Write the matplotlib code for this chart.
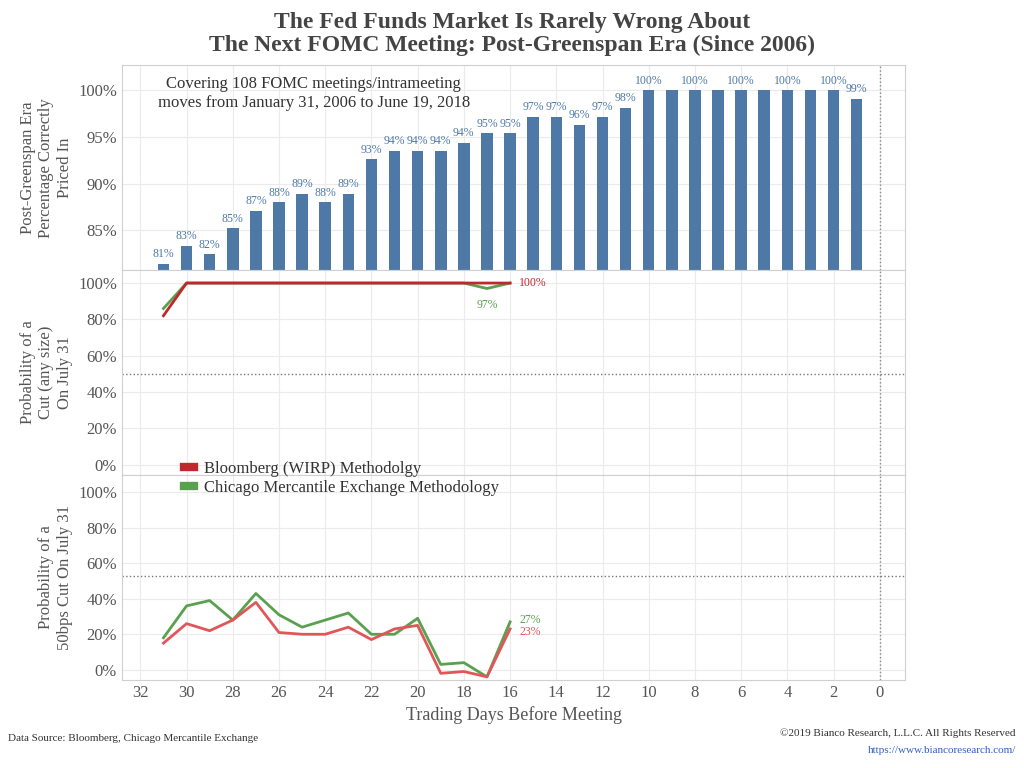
import numpy as np
import matplotlib.pyplot as plt
from matplotlib.ticker import FuncFormatter

plt.rcParams['font.family'] = ['Liberation Serif', 'DejaVu Serif']

days = list(range(31, 0, -1))
pct_correct = [81.4, 83.3, 82.4, 85.2, 87.1, 88.0, 88.9, 88.0, 88.9, 92.6, 93.5, 93.5,
               93.5, 94.4, 95.4, 95.4, 97.2, 97.2, 96.3, 97.2, 98.1, 100, 100, 100,
               100, 100, 100, 100, 100, 100, 99.1]
shown = {31, 30, 29, 28, 27, 26, 25, 24, 23, 22, 21, 20, 19, 18, 17, 16, 15, 14, 13,
         12, 11, 10, 8, 6, 4, 2, 1}

line_days = list(range(31, 15, -1))
cut_bbg = [82, 100, 100, 100, 100, 100, 100, 100, 100, 100, 100, 100, 100, 100, 100, 100]
cut_cme = [86, 100, 100, 100, 100, 100, 100, 100, 100, 100, 100, 100, 100, 100, 97, 100]
bp50_bbg = [15, 26, 22, 28, 38, 21, 20, 20, 24, 17, 23, 25, -2, -1, -4, 23]
bp50_cme = [18, 36, 39, 28, 43, 31, 24, 28, 32, 20, 20, 29, 3, 4, -4, 27]

BLUE = '#4e79a7'
RED = '#c0282d'
RED2 = '#e15759'
GREEN = '#59a14f'
TXT = '#555555'

fig = plt.figure(figsize=(10.24, 7.68), dpi=100)
ax1 = fig.add_axes([0.119, 0.648, 0.765, 0.267])
ax2 = fig.add_axes([0.119, 0.382, 0.765, 0.266], sharex=ax1)
ax3 = fig.add_axes([0.119, 0.115, 0.765, 0.267], sharex=ax1)

pct = FuncFormatter(lambda v, p: '%d%%' % v)
for ax in (ax1, ax2, ax3):
    ax.set_xlim(32.8, -1.1)
    ax.grid(True, color='#ebebeb', lw=0.8)
    ax.set_axisbelow(True)
    for s in ax.spines.values():
        s.set_color('#d0d0d0')
    ax.tick_params(length=0, colors=TXT, labelsize=12)
    ax.yaxis.set_major_formatter(pct)
    ax.axvline(0, color='#888888', ls=':', lw=1)

ax1.bar(days, pct_correct, width=0.5, color=BLUE)
for d, v in zip(days, pct_correct):
    if d in shown:
        ax1.text(d, v + 0.4, '%d%%' % round(v), ha='center', va='bottom', fontsize=8.5, color=BLUE)
ax1.set_ylim(80.7, 102.7)
ax1.set_yticks([85, 90, 95, 100])
ax1.set_ylabel('Post-Greenspan Era\nPercentage Correctly\nPriced In', fontsize=12, color=TXT)
ax1.text(24.5, 101.5, 'Covering 108 FOMC meetings/intrameeting\nmoves from January 31, 2006 to June 19, 2018',
         ha='center', va='top', fontsize=12, color='#333333')
ax1.tick_params(labelbottom=False)

ax2.plot(line_days, cut_cme, color=GREEN, lw=2)
ax2.plot(line_days, cut_bbg, color=RED, lw=2)
ax2.axhline(50, color='#777777', ls=':', lw=1)
ax2.text(17, 91, '97%', color=GREEN, fontsize=8.5, ha='center', va='top')
ax2.text(15.6, 100, '100%', color=RED, fontsize=8.5, va='center')
ax2.set_ylim(-5.5, 107)
ax2.set_yticks([0, 20, 40, 60, 80, 100])
ax2.set_ylabel('Probability of a\nCut (any size)\nOn July 31', fontsize=12, color=TXT)
ax2.tick_params(labelbottom=False)

ax3.plot(line_days, bp50_cme, color=GREEN, lw=2)
ax3.plot(line_days, bp50_bbg, color=RED2, lw=2)
ax3.axhline(53, color='#777777', ls=':', lw=1)
ax3.text(15.6, 28, '27%', color=GREEN, fontsize=8.5, va='center')
ax3.text(15.6, 21, '23%', color=RED2, fontsize=8.5, va='center')
ax3.set_ylim(-5.6, 110)
ax3.set_yticks([0, 20, 40, 60, 80, 100])
ax3.set_xticks(range(32, -1, -2))
ax3.set_ylabel('Probability of a\n50bps Cut On July 31', fontsize=12, color=TXT)
ax3.set_xlabel('Trading Days Before Meeting', fontsize=13, color=TXT)

ax3.plot([], [], color=RED, lw=6, label='Bloomberg (WIRP) Methodolgy')
ax3.plot([], [], color=GREEN, lw=6, label='Chicago Mercantile Exchange Methodology')
ax3.legend(loc='upper left', bbox_to_anchor=(0.06, 1.14), frameon=False, fontsize=12,
           handlelength=0.6, handletextpad=0.6, labelspacing=0.2, labelcolor='#333333')

fig.text(0.5, 0.985, 'The Fed Funds Market Is Rarely Wrong About\nThe Next FOMC Meeting: Post-Greenspan Era (Since 2006)',
         ha='center', va='top', fontsize=17, fontweight='bold', color='#444444', linespacing=1.15)
fig.text(0.008, 0.035, 'Data Source: Bloomberg, Chicago Mercantile Exchange', fontsize=8, color='#333333')
fig.text(0.992, 0.042, '\u00a92019 Bianco Research, L.L.C. All Rights Reserved', fontsize=8,
         color='#333333', ha='right')
fig.text(0.992, 0.02, 'https://www.biancoresearch.com/', fontsize=8, color='#3060c0', ha='right')

fig.savefig('out.png', dpi=100)
